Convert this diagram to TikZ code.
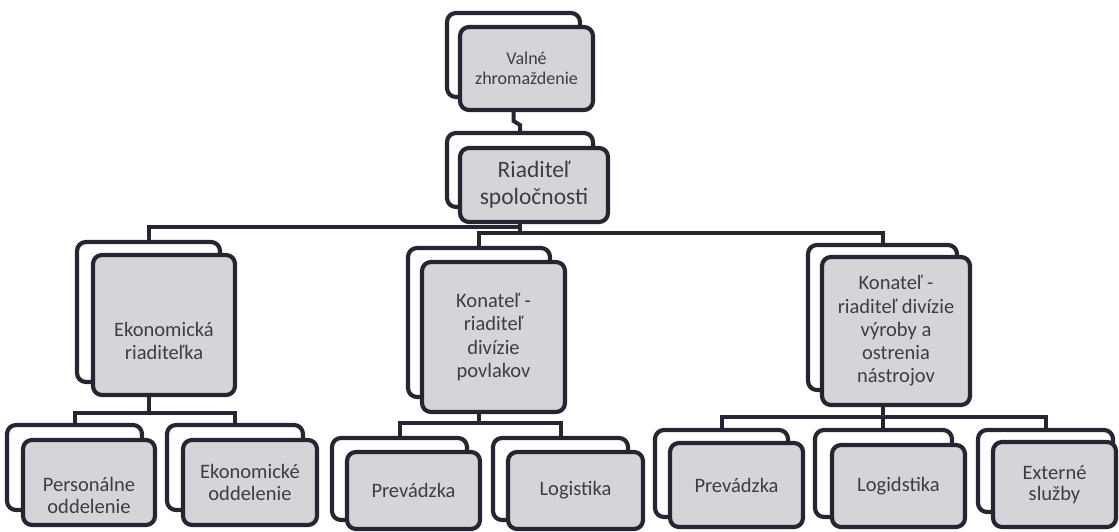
\documentclass[tikz,border=0pt]{standalone}
\usepackage{fontspec}
\setmainfont{Carlito}
\usetikzlibrary{backgrounds}
\definecolor{ln}{RGB}{40,36,50}
\definecolor{fillc}{RGB}{212,212,217}
\definecolor{txt}{RGB}{62,62,66}
\newcommand\orgbox[7]{\node[#2, minimum width={(#5-#3)*1pt}, minimum height={(#6-#4)*1pt}] (#1) at ({(#3+#5)/2},{(#4+#6)/2}) {#7};}
\begin{document}
\begin{tikzpicture}[x=1pt,y=-1pt,line join=round,
  back/.style={draw=ln, line width=4.2pt, rounded corners=9pt, fill=white, inner sep=0pt, outer sep=0pt},
  front/.style={back, fill=fillc, text=txt, align=center},
  conn/.style={draw=ln, line width=4pt},
  ftop/.style={font=\fontsize{18}{20.5}\selectfont},
  fdir/.style={font=\fontsize{23.5}{27}\selectfont},
  fmid/.style={font=\fontsize{20.5}{23.2}\selectfont},
  fbot/.style={font=\fontsize{20.5}{21.5}\selectfont},
  lbl/.style={text=txt, align=center, inner sep=0pt}]
\useasboundingbox (0,0) rectangle (1119,532);
% level 0
\orgbox{valb}{back}{447}{13}{580}{97}{}
\orgbox{valf}{front,ftop}{460}{27}{593}{110}{Valné\\zhromaždenie}
% level 1
\orgbox{rib}{back}{447}{133}{593}{207}{}
\orgbox{rif}{front,fdir}{460}{148}{608}{222}{Riaditeľ\\spoločnosti}
% level 2
\orgbox{ekb}{back}{77}{242}{220}{382}{}
\orgbox{ekf}{front}{93}{255}{235}{395}{}
\node[lbl,fmid,yshift=-16pt] (ekt) at (ekf.center) {Ekonomická\\riaditeľka};
\orgbox{kab}{back}{408}{248}{550}{397}{}
\orgbox{kaf}{front,fmid}{422}{262}{565}{412}{Konateľ -\\riaditeľ\\divízie\\povlakov}
\orgbox{kcb}{back}{808}{245}{957}{390}{}
\orgbox{kcf}{front,fmid}{822}{257}{970}{405}{Konateľ -\\riaditeľ divízie\\výroby a\\ostrenia\\nástrojov}
% level 3
\orgbox{peb}{back}{7}{425}{142}{510}{}
\orgbox{pef}{front}{23}{440}{155}{525}{}
\node[lbl,fbot,yshift=-13pt] (pet) at (pef.center) {Personálne\\oddelenie};
\orgbox{eob}{back}{167}{425}{303}{510}{}
\orgbox{eof}{front,fbot}{183}{440}{317}{525}{Ekonomické\\oddelenie}
\orgbox{pab}{back}{332}{438}{467}{520}{}
\orgbox{paf}{front,fbot}{347}{452}{480}{529}{Prevádzka}
\orgbox{lab}{back}{493}{438}{628}{520}{}
\orgbox{laf}{front,fbot}{508}{452}{643}{529}{Logistika}
\orgbox{pcb}{back}{655}{430}{788}{517}{}
\orgbox{pcf}{front,fbot}{670}{443}{803}{527}{Prevádzka}
\orgbox{lcb}{back}{815}{430}{952}{517}{}
\orgbox{lcf}{front,fbot}{832}{445}{965}{527}{Logidstika}
\orgbox{exb}{back}{978}{430}{1113}{512}{}
\orgbox{exf}{front,fbot}{993}{442}{1116}{527}{Externé\\služby}
\begin{scope}[on background layer]
\fill[white] (0,0) rectangle (1119,532);
\draw[conn] (valb.south) -- ++(0,24) -- ++(6.5,4) -- (rib.north);
\draw[conn] (rib.south) -- ++(0,20) -| (ekb.north);
\draw[conn] (rib.south) -- ++(0,26) coordinate (rbus);
\draw[conn] (kab.north) -- (kab.north |- rbus) -- (kcb.north |- rbus) -- (kcb.north);
\draw[conn] (ekb.south) -- ++(0,31) coordinate (ebus);
\draw[conn] (peb.north) -- (peb.north |- ebus) -- (eob.north |- ebus) -- (eob.north);
\draw[conn] (kab.south) -- ++(0,26) coordinate (kabus);
\draw[conn] (pab.north) -- (pab.north |- kabus) -- (lab.north |- kabus) -- (lab.north);
\draw[conn] (kcb.south) -- (kcb.south |- lcb.north);
\draw[conn] (kcb.south) -- ++(0,27) coordinate (kcbus);
\draw[conn] (pcb.north) -- (pcb.north |- kcbus) -- (exb.north |- kcbus) -- (exb.north);
\end{scope}
\end{tikzpicture}
\end{document}
